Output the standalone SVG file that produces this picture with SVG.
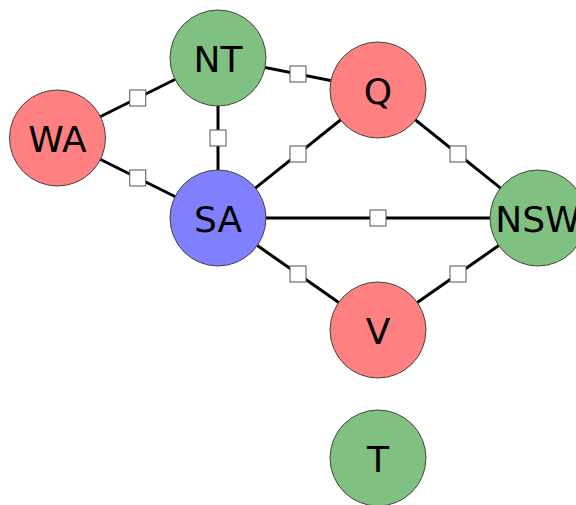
<svg xmlns="http://www.w3.org/2000/svg" width="576" height="505" viewBox="0 0 576 505">
<style>
.e{stroke:#000;stroke-width:3;fill:none}
.m{fill:#fff;stroke:#555;stroke-width:1}
.n{stroke:#444;stroke-width:1}
.r{fill:#ff8080}.g{fill:#80c080}.b{fill:#8080ff}
text{font-family:"DejaVu Sans",sans-serif;font-size:36px;text-anchor:middle;fill:#000}
</style>
<rect width="576" height="505" fill="#fff"/>
<g id="connectors">
<line class="e" x1="57.5" y1="138" x2="218" y2="58"/>
<line class="e" x1="57.5" y1="138" x2="218" y2="218"/>
<line class="e" x1="218" y1="58" x2="218" y2="218"/>
<line class="e" x1="218" y1="58" x2="378" y2="90"/>
<line class="e" x1="218" y1="218" x2="378" y2="90"/>
<line class="e" x1="218" y1="218" x2="538" y2="218"/>
<line class="e" x1="218" y1="218" x2="378" y2="330"/>
<line class="e" x1="378" y1="90" x2="538" y2="218"/>
<line class="e" x1="378" y1="330" x2="538" y2="218"/>
<rect class="m" x="129.75" y="90" width="16" height="16"/>
<rect class="m" x="129.75" y="170" width="16" height="16"/>
<rect class="m" x="210" y="130" width="16" height="16"/>
<rect class="m" x="290" y="66" width="16" height="16"/>
<rect class="m" x="290" y="146" width="16" height="16"/>
<rect class="m" x="370" y="210" width="16" height="16"/>
<rect class="m" x="290" y="266" width="16" height="16"/>
<rect class="m" x="450" y="146" width="16" height="16"/>
<rect class="m" x="450" y="266" width="16" height="16"/>
</g>
<g id="WA"><circle class="n r" cx="57.5" cy="138" r="48"/><text x="57.5" y="152">WA</text></g>
<g id="NT"><circle class="n g" cx="218" cy="58" r="48"/><text x="218" y="72">NT</text></g>
<g id="Q"><circle class="n r" cx="378" cy="90" r="48"/><text x="378" y="104">Q</text></g>
<g id="SA"><circle class="n b" cx="218" cy="218" r="48"/><text x="218" y="232">SA</text></g>
<g id="NSW"><circle class="n g" cx="538" cy="218" r="48"/><text x="538" y="232">NSW</text></g>
<g id="V"><circle class="n r" cx="378" cy="330" r="48"/><text x="378" y="344">V</text></g>
<g id="T"><circle class="n g" cx="378" cy="458" r="48"/><text x="378" y="472">T</text></g>
</svg>
